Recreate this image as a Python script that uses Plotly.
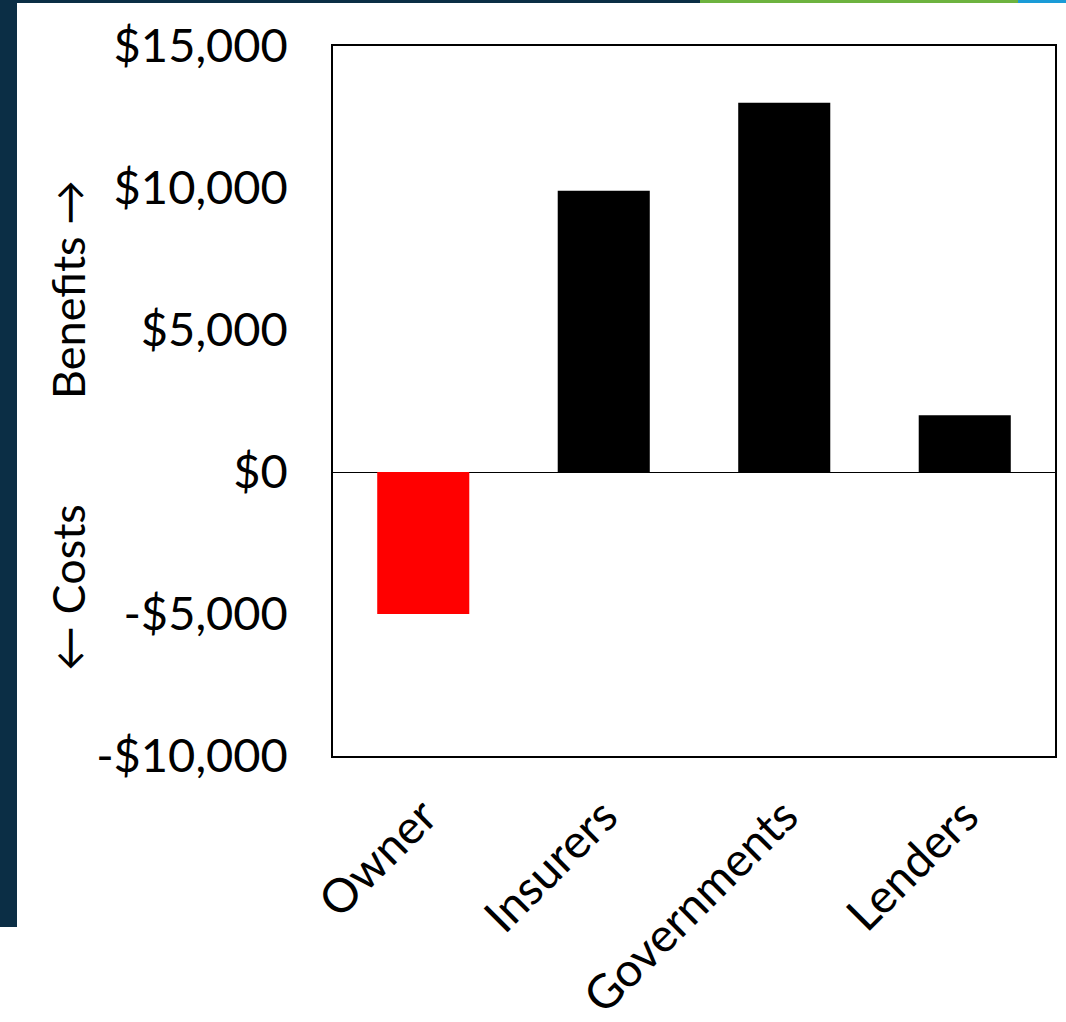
import plotly.graph_objects as go

# Net value per stakeholder (USD): negative = cost, positive = benefit
stakeholders = ["Owner", "Insurers", "Governments", "Lenders"]
net_values = [-5000, 9900, 13000, 2000]
bar_colors = ["#ff0000", "#000000", "#000000", "#000000"]

tick_values = [-10000, -5000, 0, 5000, 10000, 15000]
tick_labels = ["-$10,000", "-$5,000", "$0", "$5,000", "$10,000", "$15,000"]

FONT = "Lato, Calibri, Carlito, sans-serif"

W, H = 1066, 1022
L, R, T, B = 333, 11, 46, 266
pw, ph = W - L - R, H - T - B


def px_x(x):
    return (x - L) / pw


def px_y(y):
    return (H - B - y) / ph


fig = go.Figure(
    go.Bar(
        x=stakeholders,
        y=net_values,
        marker=dict(color=bar_colors, line=dict(width=0)),
        width=0.51,
    )
)

shapes = [
    # slide decoration: left dark strip and top accent bar
    dict(type="rect", xref="paper", yref="paper", x0=px_x(0), x1=px_x(17),
         y0=px_y(927), y1=px_y(0), fillcolor="#0b2e45", line=dict(width=0), layer="below"),
    dict(type="rect", xref="paper", yref="paper", x0=px_x(0), x1=px_x(700),
         y0=px_y(3), y1=px_y(0), fillcolor="#0b2e45", line=dict(width=0), layer="below"),
    dict(type="rect", xref="paper", yref="paper", x0=px_x(700), x1=px_x(1018),
         y0=px_y(3), y1=px_y(0), fillcolor="#6db33f", line=dict(width=0), layer="below"),
    dict(type="rect", xref="paper", yref="paper", x0=px_x(1018), x1=px_x(1066),
         y0=px_y(3), y1=px_y(0), fillcolor="#1a9bd7", line=dict(width=0), layer="below"),
]

annotations = [
    dict(text="Benefits \u2192", xref="paper", yref="paper", x=px_x(68), y=px_y(290),
         xanchor="center", yanchor="middle",
         textangle=-90, showarrow=False, font=dict(family=FONT, size=45, color="black")),
    dict(text="\u2190 Costs", xref="paper", yref="paper", x=px_x(68), y=px_y(588),
         xanchor="center", yanchor="middle",
         textangle=-90, showarrow=False, font=dict(family=FONT, size=45, color="black")),
]

fig.update_layout(
    width=W, height=H,
    margin=dict(l=L, r=R, t=T, b=B, autoexpand=False),
    paper_bgcolor="white",
    plot_bgcolor="white",
    showlegend=False,
    shapes=shapes,
    annotations=annotations,
    bargap=0.49,
    xaxis=dict(
        tickangle=-45, automargin=False,
        tickfont=dict(family=FONT, size=47, color="black"),
        showline=True, linecolor="black", linewidth=1.5, mirror=True,
        showgrid=False, ticks="", ticklabelstandoff=12,
    ),
    yaxis=dict(
        range=[-10000, 15000], automargin=False,
        tickvals=tick_values,
        ticktext=tick_labels,
        tickfont=dict(family=FONT, size=47, color="black"),
        showline=True, linecolor="black", linewidth=1.5, mirror=True,
        showgrid=False, ticks="", ticklen=0, ticklabelstandoff=34,
        zeroline=True, zerolinecolor="black", zerolinewidth=1.2,
    ),
)

fig.write_html("out.html")
